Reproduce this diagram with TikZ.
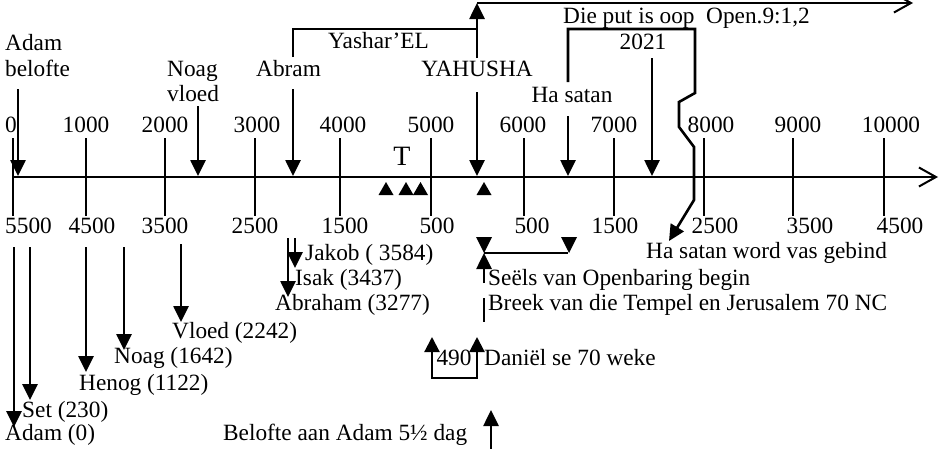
\documentclass[tikz,border=0pt]{standalone}
\usepackage{fontspec}
\setmainfont{Liberation Serif}
\usetikzlibrary{arrows.meta}
\begin{document}
\begin{tikzpicture}[x=1pt,y=-1pt,
  lbl/.style={font=\fontsize{23.3}{27}\selectfont, inner sep=0pt, anchor=base west},
  num/.style={font=\fontsize{23.3}{27}\selectfont, inner sep=0pt, anchor=base},
  axisline/.style={line width=2pt},
  tickline/.style={line width=2pt},
  arr/.style={line width=2.6pt,-{Triangle[width=15pt,length=16pt]}},
  conn/.style={line width=2.6pt},
  tri/.style={fill=black},
]
\useasboundingbox (0,0) rectangle (944,448);
\clip (0,0) rectangle (944,448);

% ticks
\foreach \x in {13,86,165,255,340,431,524,614,704,793,884}
  \draw[tickline] (\x,138) -- (\x,216);

% main axis
\coordinate (axL) at (13,177);
\coordinate (axR) at (938,177);
\draw[axisline,-{Straight Barb[length=17pt,width=19pt,line width=2pt]}] (axL) -- (axR);

% upper tick labels
\node[lbl] (u0) at (5,132) {0};
\node[num] (u1) at (86,132) {1000};
\node[num] (u2) at (165,132) {2000};
\node[num] (u3) at (257,132) {3000};
\node[num] (u4) at (343,132) {4000};
\node[num] (u5) at (431,132) {5000};
\node[num] (u6) at (523,132) {6000};
\node[num] (u7) at (614,132) {7000};
\node[num] (u8) at (711,132) {8000};
\node[num] (u9) at (798,132) {9000};
\node[num] (u10) at (891,132) {10000};

% lower tick labels
\node[lbl] (l1) at (5,233) {5500};
\node[num] (l2) at (92,233) {4500};
\node[num] (l3) at (165,233) {3500};
\node[num] (l4) at (255,233) {2500};
\node[num] (l5) at (345,233) {1500};
\node[num] (l6) at (437,233) {500};
\node[num] (l7) at (532,233) {500};
\node[num] (l8) at (615,233) {1500};
\node[num] (l9) at (715,233) {2500};
\node[num] (l10) at (810,233) {3500};
\node[num] (l11) at (900,233) {4500};

% upper labels
\node[lbl] (adam1) at (5,50) {Adam};
\node[lbl] (belofte) at (5,76) {belofte};
\node[lbl] (noag1) at (167,76) {Noag};
\node[lbl] (vloed1) at (167,101) {vloed};
\node[lbl] (abram) at (256,76) {Abram};
\node[lbl] (yashar) at (328,48) {Yashar’EL};
\node[num] (yahusha) at (477,76) {YAHUSHA};
\node[lbl] (putoop) at (563,23) {Die put is oop\ \ Open.9:1,2};
\node[num] (y2021) at (643,49) {2021};
\node[num] (hasatan) at (572,102) {Ha satan};
\node[num,font=\fontsize{28}{31}\selectfont] (Tnode) at (402,165) {T};

% lower labels
\node[lbl] (jakob) at (305,260) {Jakob ( 3584)};
\node[lbl] (isak) at (295,285) {Isak (3437)};
\node[lbl] (abraham) at (275,310) {Abraham (3277)};
\node[lbl] (vloed2) at (172,338) {Vloed (2242)};
\node[lbl] (noag2) at (114,363) {Noag (1642)};
\node[lbl] (henog) at (79,390) {Henog (1122)};
\node[lbl] (set) at (22,417) {Set (230)};
\node[lbl] (adam0) at (5,440) {Adam (0)};
\node[lbl] (beloofte) at (223,440) {Belofte aan Adam 5½ dag};
\node[lbl] (seels) at (488,285) {Seëls van Openbaring begin};
\node[lbl] (breek) at (488,310) {Breek van die Tempel en Jerusalem 70 NC};
\node[num] (n490) at (454,365) {490};
\node[lbl] (daniel) at (484,365) {Daniël se 70 weke};
\node[lbl] (gebind) at (646,258) {Ha satan word vas gebind};

% upper arrows down to the axis
\coordinate (aB1) at (18,89);   \coordinate (aB2) at (18,176);
\coordinate (aN1) at (198,106); \coordinate (aN2) at (198,176);
\coordinate (aA1) at (293,89);  \coordinate (aA2) at (293,176);
\coordinate (aY1) at (477,92);  \coordinate (aY2) at (477,176);
\coordinate (aH1) at (568,116); \coordinate (aH2) at (568,176);
\coordinate (a21a) at (652,58); \coordinate (a21b) at (652,176);
\draw[arr] (aB1) -- (aB2);
\draw[arr] (aN1) -- (aN2);
\draw[arr] (aA1) -- (aA2);
\draw[arr] (aY1) -- (aY2);
\draw[arr] (aH1) -- (aH2);
\draw[arr] (a21a) -- (a21b);

% top connectors
\coordinate (abTop) at (293,57);
\coordinate (yTop0) at (477,58);
\coordinate (yTop) at (477,3);
\coordinate (topR) at (913,3);
\draw[conn] (abTop) -- (293,29) -- (477,29);
\draw[arr] (yTop0) -- (yTop);
\draw[conn,-{Straight Barb[length=17pt,width=19pt,line width=2pt]}] (yTop) -- (topR);

\coordinate (hsTop) at (568,82);
\coordinate (hsEnd) at (669,241);
\draw[arr,line join=miter] (hsTop) -- (568,29) -- (695,29) -- (695,93) -- (679,102) -- (679,127) -- (694,147) -- (694,200) -- (hsEnd);

% small triangles below axis
\foreach \x in {386,406,420.5,484}
  \fill[tri] (\x-7.5,195) -- (\x,182) -- (\x+7.5,195) -- cycle;

% lower arrows
\draw[arr] (14,247) -- (14,427);
\draw[arr] (30,247) -- (30,400);
\draw[arr] (86,247) -- (86,372);
\draw[arr] (124,247) -- (124,350);
\draw[arr] (181,244) -- (181,322);
\draw[arr] (288,238) -- (288,297);
\draw[arr] (295,238) -- (295,268);

% middle bracket
\coordinate (brL) at (484,253);
\coordinate (brR) at (568,253);
\draw[conn] (brL) -- (brR);
\fill[tri] (476,237) -- (484,253) -- (492,237) -- cycle;
\fill[tri] (561,237) -- (569,253) -- (577,237) -- cycle;
\coordinate (sb) at (484,283);
\draw[arr] (sb) -- (brL);
\draw[conn] (484,298) -- (484,322);

% 490 bracket
\coordinate (d1) at (432,337);
\coordinate (d2) at (477,337);
\draw[line width=2.2pt,{Triangle[width=15pt,length=15pt]}-{Triangle[width=15pt,length=15pt]}] (d1) -- (432,378) -- (477,378) -- (d2);

% belofte arrow
\coordinate (bl1) at (491,450);
\coordinate (bl2) at (491,410);
\draw[arr] (bl1) -- (bl2);
\end{tikzpicture}
\end{document}
